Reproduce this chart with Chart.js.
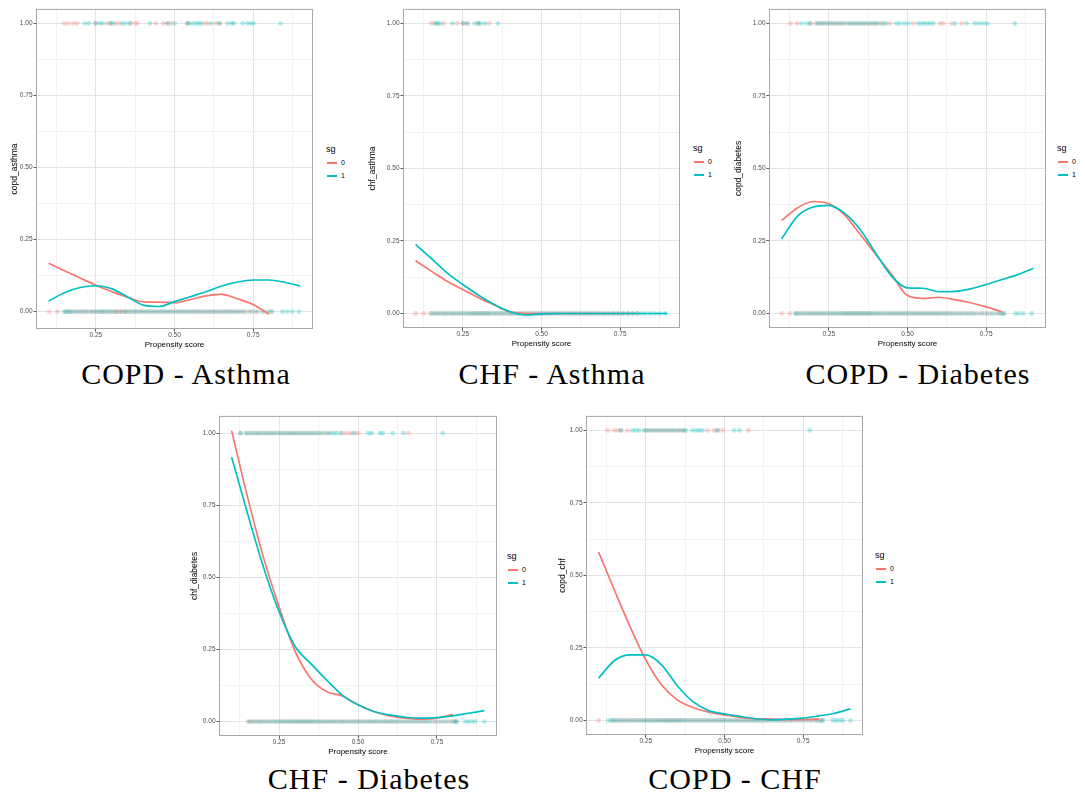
<!DOCTYPE html>
<html>
<head>
<meta charset="utf-8">
<script src="https://cdn.jsdelivr.net/npm/chart.js@4.4.0/dist/chart.umd.min.js"></script>
<style>
  body { margin: 0; background: #fff; width: 1085px; height: 798px; position: relative; overflow: hidden; font-family: "Liberation Sans", Arial, sans-serif; }
  .panel { position: absolute; }
  .leg { position: absolute; width: 40px; height: 40px; color: #000; }
  .leg .t { position: absolute; left: 0; top: 0; font-size: 9px; line-height: 13px; }
  .leg .row { position: absolute; left: 1px; font-size: 7px; line-height: 13px; white-space: nowrap; }
  .leg .key { display: inline-block; width: 10px; height: 2px; vertical-align: middle; margin-right: 4px; }
  .cap { position: absolute; font-family: "Liberation Serif", serif; font-size: 30px; letter-spacing: 1px; line-height: 1; white-space: nowrap; transform: translate(-50%, -50%); }
</style>
</head>
<body>
<script>
// ---- data ------------------------------------------------------------
// loess fits are sampled on fitX; sg = 0 stops at 0.80, sg = 1 runs to 0.90
var fitX = [0.10, 0.15, 0.20, 0.25, 0.30, 0.35, 0.40, 0.45, 0.50, 0.55, 0.60, 0.65, 0.70, 0.75, 0.80, 0.85, 0.90];
var xTicks = [0.125, 0.25, 0.375, 0.5, 0.625, 0.75, 0.875];
var yTicks = [0, 0.125, 0.25, 0.375, 0.5, 0.625, 0.75, 0.875, 1];
var majorTicks = [0, 0.25, 0.5, 0.75, 1];
var groups = ['0', '1'];

// COPD - Asthma
var copdAsthmaFit0 = [0.168, 0.142, 0.117, 0.092, 0.070, 0.050, 0.034, 0.033, 0.031, 0.042, 0.055, 0.060, 0.045, 0.025, -0.008];
var copdAsthmaFit1 = [0.037, 0.066, 0.084, 0.090, 0.080, 0.052, 0.023, 0.018, 0.035, 0.052, 0.069, 0.089, 0.103, 0.110, 0.110, 0.102, 0.089];
var copdAsthmaOne0 = [0.149, 0.162, 0.178, 0.19, 0.249, 0.283, 0.296, 0.312, 0.323, 0.359, 0.375, 0.382, 0.44, 0.464, 0.478, 0.49, 0.541, 0.596, 0.606, 0.632, 0.643];
var copdAsthmaOne1 = [0.215, 0.228, 0.249, 0.262, 0.27, 0.296, 0.304, 0.333, 0.344, 0.359, 0.422, 0.478, 0.501, 0.541, 0.548, 0.559, 0.569, 0.577, 0.585, 0.617, 0.643, 0.669, 0.682, 0.688, 0.717, 0.732, 0.743, 0.751, 0.837];
var copdAsthmaZero0 = [0.102, 0.128, 0.155, 0.168, 0.18, 0.193, 0.205, 0.218, 0.23, 0.242, 0.255, 0.265, 0.275, 0.287, 0.298, 0.31, 0.318, 0.326, 0.334, 0.342, 0.35, 0.362, 0.375, 0.388, 0.4, 0.412, 0.425, 0.437, 0.45, 0.462, 0.475, 0.487, 0.5, 0.512, 0.525, 0.537, 0.55, 0.562, 0.575, 0.587, 0.6, 0.612, 0.625, 0.637, 0.65, 0.662, 0.675, 0.687, 0.7, 0.715, 0.73, 0.748, 0.765, 0.785, 0.805];
var copdAsthmaZero1 = [0.15, 0.158, 0.165, 0.172, 0.185, 0.198, 0.21, 0.222, 0.236, 0.248, 0.26, 0.27, 0.28, 0.292, 0.304, 0.315, 0.33, 0.345, 0.358, 0.37, 0.38, 0.393, 0.406, 0.418, 0.43, 0.443, 0.456, 0.468, 0.48, 0.493, 0.506, 0.518, 0.53, 0.543, 0.556, 0.568, 0.58, 0.593, 0.606, 0.618, 0.63, 0.643, 0.656, 0.668, 0.68, 0.693, 0.706, 0.72, 0.74, 0.758, 0.778, 0.798, 0.81, 0.843, 0.858, 0.874, 0.895];

// CHF - Asthma
var chfAsthmaFit0 = [0.182, 0.146, 0.111, 0.083, 0.054, 0.029, 0.006, 0, 0, 0, 0, 0, 0, 0, 0];
var chfAsthmaFit1 = [0.238, 0.190, 0.140, 0.100, 0.063, 0.031, 0.006, -0.005, -0.001, 0, 0, 0, 0, 0, 0, 0, 0];
var chfAsthmaOne0 = [0.15, 0.163, 0.189, 0.232, 0.251, 0.264, 0.299, 0.334];
var chfAsthmaOne1 = [0.163, 0.171, 0.177, 0.217, 0.251, 0.264, 0.288, 0.299, 0.306, 0.32, 0.362];
var chfAsthmaZero0 = [0.1, 0.126, 0.146, 0.158, 0.17, 0.183, 0.195, 0.208, 0.22, 0.233, 0.245, 0.258, 0.27, 0.28, 0.29, 0.3, 0.31, 0.32, 0.33, 0.342, 0.355, 0.368, 0.38, 0.393, 0.405, 0.418, 0.43, 0.443, 0.455, 0.468, 0.48, 0.493, 0.505, 0.518, 0.53, 0.543, 0.555, 0.568, 0.58, 0.593, 0.605, 0.618, 0.63, 0.643, 0.655, 0.668, 0.68, 0.695, 0.71, 0.725, 0.74, 0.758, 0.775, 0.79, 0.805];
var chfAsthmaZero1 = [0.152, 0.164, 0.176, 0.189, 0.2, 0.214, 0.226, 0.238, 0.25, 0.263, 0.275, 0.286, 0.296, 0.306, 0.316, 0.326, 0.336, 0.348, 0.36, 0.373, 0.386, 0.398, 0.41, 0.423, 0.436, 0.448, 0.46, 0.473, 0.486, 0.498, 0.51, 0.523, 0.536, 0.548, 0.56, 0.573, 0.586, 0.598, 0.61, 0.623, 0.636, 0.648, 0.66, 0.673, 0.686, 0.7, 0.715, 0.73, 0.745, 0.76, 0.775, 0.79, 0.805, 0.818, 0.83, 0.845, 0.86, 0.875, 0.893];

// COPD - Diabetes
var copdDiabFit0 = [0.320, 0.364, 0.386, 0.378, 0.340, 0.272, 0.203, 0.134, 0.062, 0.052, 0.056, 0.048, 0.037, 0.023, 0.006];
var copdDiabFit1 = [0.257, 0.335, 0.367, 0.373, 0.346, 0.289, 0.206, 0.128, 0.088, 0.087, 0.075, 0.076, 0.085, 0.100, 0.117, 0.134, 0.156];
var copdDiabOne0 = [0.128, 0.149, 0.191, 0.208, 0.22, 0.232, 0.245, 0.258, 0.27, 0.282, 0.295, 0.31, 0.322, 0.335, 0.348, 0.36, 0.372, 0.385, 0.398, 0.41, 0.425, 0.444, 0.518, 0.603, 0.613, 0.64, 0.672];
var copdDiabOne1 = [0.163, 0.179, 0.191, 0.215, 0.226, 0.238, 0.25, 0.262, 0.275, 0.288, 0.3, 0.315, 0.328, 0.34, 0.352, 0.365, 0.378, 0.39, 0.402, 0.418, 0.432, 0.465, 0.475, 0.49, 0.502, 0.534, 0.544, 0.553, 0.562, 0.572, 0.582, 0.651, 0.688, 0.714, 0.728, 0.741, 0.753, 0.841];
var copdDiabZero0 = [0.1, 0.126, 0.146, 0.158, 0.172, 0.185, 0.198, 0.21, 0.222, 0.235, 0.248, 0.26, 0.272, 0.284, 0.296, 0.306, 0.316, 0.326, 0.336, 0.346, 0.356, 0.366, 0.376, 0.386, 0.398, 0.41, 0.423, 0.436, 0.448, 0.46, 0.473, 0.486, 0.498, 0.51, 0.523, 0.536, 0.548, 0.56, 0.573, 0.586, 0.598, 0.61, 0.623, 0.636, 0.65, 0.665, 0.68, 0.695, 0.71, 0.728, 0.745, 0.762, 0.78, 0.795, 0.806];
var copdDiabZero1 = [0.143, 0.152, 0.165, 0.178, 0.191, 0.204, 0.216, 0.228, 0.241, 0.254, 0.266, 0.278, 0.29, 0.301, 0.311, 0.321, 0.331, 0.341, 0.351, 0.361, 0.371, 0.381, 0.392, 0.404, 0.416, 0.429, 0.442, 0.454, 0.467, 0.48, 0.492, 0.504, 0.517, 0.53, 0.542, 0.554, 0.567, 0.58, 0.592, 0.604, 0.617, 0.63, 0.643, 0.658, 0.672, 0.688, 0.703, 0.718, 0.736, 0.753, 0.77, 0.788, 0.8, 0.807, 0.843, 0.853, 0.867, 0.895];

// CHF - Diabetes
var chfDiabFit0 = [1.009, 0.780, 0.572, 0.399, 0.246, 0.150, 0.104, 0.089, 0.058, 0.035, 0.020, 0.012, 0.008, 0.012, 0.025];
var chfDiabFit1 = [0.917, 0.723, 0.538, 0.382, 0.262, 0.202, 0.145, 0.092, 0.058, 0.035, 0.023, 0.015, 0.012, 0.014, 0.020, 0.029, 0.038];
var chfDiabOne0 = [0.128, 0.15, 0.165, 0.178, 0.19, 0.205, 0.218, 0.232, 0.245, 0.258, 0.27, 0.282, 0.295, 0.308, 0.322, 0.335, 0.348, 0.36, 0.375, 0.39, 0.405, 0.45, 0.462, 0.475, 0.49, 0.501, 0.66];
var chfDiabOne1 = [0.128, 0.145, 0.158, 0.172, 0.185, 0.198, 0.212, 0.225, 0.238, 0.252, 0.265, 0.278, 0.29, 0.302, 0.315, 0.328, 0.342, 0.355, 0.368, 0.382, 0.398, 0.412, 0.422, 0.432, 0.445, 0.485, 0.533, 0.543, 0.57, 0.578, 0.61, 0.644, 0.768];
var chfDiabZero0 = [0.152, 0.162, 0.175, 0.188, 0.2, 0.213, 0.226, 0.238, 0.25, 0.262, 0.273, 0.284, 0.295, 0.306, 0.316, 0.326, 0.336, 0.346, 0.356, 0.368, 0.38, 0.392, 0.404, 0.416, 0.429, 0.442, 0.454, 0.467, 0.48, 0.492, 0.504, 0.517, 0.53, 0.542, 0.554, 0.567, 0.58, 0.592, 0.604, 0.617, 0.63, 0.645, 0.66, 0.675, 0.69, 0.705, 0.72, 0.738, 0.755, 0.772, 0.79, 0.805, 0.81];
var chfDiabZero1 = [0.156, 0.168, 0.182, 0.194, 0.207, 0.22, 0.232, 0.244, 0.256, 0.268, 0.279, 0.29, 0.3, 0.311, 0.321, 0.331, 0.341, 0.351, 0.362, 0.374, 0.386, 0.398, 0.41, 0.422, 0.435, 0.448, 0.46, 0.473, 0.486, 0.498, 0.51, 0.523, 0.536, 0.548, 0.56, 0.573, 0.586, 0.598, 0.61, 0.623, 0.637, 0.652, 0.667, 0.682, 0.697, 0.712, 0.728, 0.746, 0.763, 0.78, 0.797, 0.808, 0.813, 0.84, 0.85, 0.86, 0.87, 0.9];

// COPD - CHF
var copdChfFit0 = [0.581, 0.450, 0.323, 0.209, 0.123, 0.071, 0.045, 0.029, 0.019, 0.011, 0.006, 0.005, 0.003, 0.003, 0.005];
var copdChfFit1 = [0.146, 0.206, 0.226, 0.226, 0.192, 0.120, 0.065, 0.034, 0.023, 0.014, 0.006, 0.002, 0.005, 0.008, 0.016, 0.025, 0.040];
var copdChfOne0 = [0.129, 0.15, 0.16, 0.171, 0.192, 0.248, 0.26, 0.272, 0.285, 0.298, 0.31, 0.322, 0.335, 0.348, 0.36, 0.372, 0.446, 0.467, 0.478, 0.494, 0.576];
var copdChfOne1 = [0.171, 0.208, 0.218, 0.229, 0.245, 0.256, 0.268, 0.28, 0.292, 0.305, 0.318, 0.33, 0.342, 0.355, 0.368, 0.377, 0.398, 0.41, 0.42, 0.43, 0.478, 0.531, 0.547, 0.771];
var copdChfZero0 = [0.1, 0.145, 0.156, 0.168, 0.18, 0.192, 0.204, 0.216, 0.228, 0.24, 0.252, 0.263, 0.274, 0.285, 0.296, 0.306, 0.316, 0.326, 0.336, 0.346, 0.356, 0.366, 0.378, 0.39, 0.402, 0.414, 0.426, 0.438, 0.45, 0.463, 0.476, 0.488, 0.5, 0.513, 0.526, 0.538, 0.55, 0.563, 0.576, 0.588, 0.6, 0.613, 0.626, 0.64, 0.655, 0.67, 0.685, 0.7, 0.716, 0.733, 0.75, 0.768, 0.785, 0.8, 0.81];
var copdChfZero1 = [0.131, 0.141, 0.15, 0.162, 0.174, 0.186, 0.198, 0.21, 0.222, 0.234, 0.246, 0.257, 0.268, 0.279, 0.29, 0.301, 0.311, 0.321, 0.331, 0.341, 0.351, 0.361, 0.372, 0.384, 0.396, 0.408, 0.42, 0.432, 0.444, 0.456, 0.469, 0.482, 0.494, 0.506, 0.519, 0.532, 0.544, 0.556, 0.569, 0.582, 0.594, 0.606, 0.619, 0.633, 0.647, 0.662, 0.677, 0.692, 0.708, 0.724, 0.741, 0.758, 0.776, 0.792, 0.805, 0.813, 0.845, 0.855, 0.865, 0.876, 0.9];

// ---- look & layout ---------------------------------------------------
var RED = '#F8766D', TEAL = '#00BFC4';
var RED_PT = 'rgba(248,118,109,0.3)', TEAL_PT = 'rgba(0,191,196,0.3)';
var AXIS_W = 36, AXIS_H = 22, PAD_TOP = 4, PAD_RIGHT = 4;

function atLevel(xs, level) {
    return xs.map(function (x) { return {x: x, y: level}; });
}
function fitLine(ys) {
    return ys.map(function (y, i) { return {x: fitX[i], y: y}; });
}
function isMajor(v) {
    return majorTicks.indexOf(Math.round(v * 1000) / 1000) >= 0;
}

// draws the grey box round the panel, like theme_bw
var panelBorder = {
    id: 'panelBorder',
    afterDatasetsDraw: function (chart) {
        var a = chart.chartArea, ctx = chart.ctx;
        ctx.save();
        ctx.strokeStyle = '#a8a8a8';
        ctx.lineWidth = 1;
        ctx.strokeRect(a.left + 0.5, a.top + 0.5, a.right - a.left - 1, a.bottom - a.top - 1);
        ctx.restore();
    }
};

function makePanel(p) {
    var left = p.box[0] - AXIS_W, top = p.box[1] - PAD_TOP;
    var w = p.box[2] + PAD_RIGHT - left, h = p.box[3] + AXIS_H - top;

    var wrap = document.createElement('div');
    wrap.className = 'panel';
    wrap.style.left = left + 'px';
    wrap.style.top = top + 'px';
    var cv = document.createElement('canvas');
    cv.width = w; cv.height = h;
    cv.style.width = w + 'px'; cv.style.height = h + 'px';
    wrap.appendChild(cv);
    document.body.appendChild(wrap);

    var gridColor = function (ctx) { return isMajor(ctx.tick.value) ? '#e4e4e4' : '#f2f2f2'; };
    var tickColor = function (ctx) { return isMajor(ctx.tick.value) ? '#555' : 'rgba(0,0,0,0)'; };
    var tickFont = {family: 'Liberation Sans', size: 6.5};

    new Chart(cv.getContext('2d'), {
        type: 'scatter',
        data: {
            datasets: [
                {label: groups[1], data: fitLine(p.fit1), showLine: true, borderColor: TEAL, borderWidth: 1.7, pointRadius: 0, cubicInterpolationMode: 'monotone'},
                {label: groups[0], data: fitLine(p.fit0), showLine: true, borderColor: RED, borderWidth: 1.7, pointRadius: 0, cubicInterpolationMode: 'monotone'},
                {data: atLevel(p.one1, 1).concat(atLevel(p.zero1, 0)), backgroundColor: TEAL_PT, borderWidth: 0, pointRadius: 2.4},
                {data: atLevel(p.one0, 1).concat(atLevel(p.zero0, 0)), backgroundColor: RED_PT, borderWidth: 0, pointRadius: 2.4}
            ]
        },
        options: {
            responsive: false,
            animation: false,
            events: [],
            layout: {padding: {left: 0, top: PAD_TOP, right: PAD_RIGHT, bottom: 0}},
            plugins: {legend: {display: false}, tooltip: {enabled: false}},
            scales: {
                x: {
                    type: 'linear', min: 0.06, max: 0.94,
                    afterBuildTicks: function (s) { s.ticks = xTicks.map(function (v) { return {value: v}; }); },
                    afterFit: function (s) { s.height = AXIS_H; },
                    border: {display: false},
                    grid: {color: gridColor, tickColor: tickColor, tickLength: 2.5, lineWidth: 1},
                    ticks: {
                        autoSkip: false, maxRotation: 0, padding: 0, color: '#4d4d4d', font: tickFont,
                        callback: function (v) { return isMajor(v) ? v.toFixed(2) : ''; }
                    },
                    title: {display: true, text: 'Propensity score', color: '#000', font: {family: 'Liberation Sans', size: 8}, padding: {top: 0, bottom: 1.7}}
                },
                y: {
                    type: 'linear', min: p.yMin, max: p.yMax,
                    afterBuildTicks: function (s) { s.ticks = yTicks.map(function (v) { return {value: v}; }); },
                    afterFit: function (s) { s.width = AXIS_W; },
                    border: {display: false},
                    grid: {color: gridColor, tickColor: tickColor, tickLength: 2.5, lineWidth: 1},
                    ticks: {
                        autoSkip: false, padding: 1, color: '#4d4d4d', font: tickFont,
                        callback: function (v) { return isMajor(v) ? v.toFixed(2) : ''; }
                    },
                    title: {display: true, text: p.yTitle, color: '#000', font: {family: 'Liberation Sans', size: 8.5}, padding: {top: AXIS_W - p.titleGap - 5.1, bottom: 0}}
                }
            }
        },
        plugins: [panelBorder]
    });

    // legend, to the right of the panel
    var mid = (p.box[1] + p.box[3]) / 2;
    var leg = document.createElement('div');
    leg.className = 'leg';
    leg.style.left = (p.box[2] + p.legGap) + 'px';
    leg.style.top = (mid - 26) + 'px';
    leg.innerHTML = '<div class="t">sg</div>' +
        '<div class="row" style="top:13px"><span class="key" style="background:' + RED + '"></span>' + groups[0] + '</div>' +
        '<div class="row" style="top:26px"><span class="key" style="background:' + TEAL + '"></span>' + groups[1] + '</div>';
    document.body.appendChild(leg);

    var cap = document.createElement('div');
    cap.className = 'cap';
    cap.style.left = p.cap[0] + 'px';
    cap.style.top = p.cap[1] + 'px';
    cap.textContent = p.caption;
    document.body.appendChild(cap);
}

makePanel({box: [36, 8, 313, 329], yMin: -0.06, yMax: 1.05, yTitle: 'copd_asthma', titleGap: 21, legGap: 13,
    fit0: copdAsthmaFit0, fit1: copdAsthmaFit1, one0: copdAsthmaOne0, one1: copdAsthmaOne1, zero0: copdAsthmaZero0, zero1: copdAsthmaZero1,
    caption: 'COPD - Asthma', cap: [186, 374]});
makePanel({box: [403, 8, 680, 328], yMin: -0.05, yMax: 1.05, yTitle: 'chf_asthma', titleGap: 30, legGap: 13,
    fit0: chfAsthmaFit0, fit1: chfAsthmaFit1, one0: chfAsthmaOne0, one1: chfAsthmaOne1, zero0: chfAsthmaZero0, zero1: chfAsthmaZero1,
    caption: 'CHF - Asthma', cap: [552, 374]});
makePanel({box: [769, 8, 1046, 328], yMin: -0.05, yMax: 1.05, yTitle: 'copd_diabetes', titleGap: 30, legGap: 11,
    fit0: copdDiabFit0, fit1: copdDiabFit1, one0: copdDiabOne0, one1: copdDiabOne1, zero0: copdDiabZero0, zero1: copdDiabZero1,
    caption: 'COPD - Diabetes', cap: [918, 374]});
makePanel({box: [219, 415, 497, 736], yMin: -0.05, yMax: 1.06, yTitle: 'chf_diabetes', titleGap: 24, legGap: 10,
    fit0: chfDiabFit0, fit1: chfDiabFit1, one0: chfDiabOne0, one1: chfDiabOne1, zero0: chfDiabZero0, zero1: chfDiabZero1,
    caption: 'CHF - Diabetes', cap: [369, 779]});
makePanel({box: [586, 415, 863, 735], yMin: -0.05, yMax: 1.05, yTitle: 'copd_chf', titleGap: 23, legGap: 12,
    fit0: copdChfFit0, fit1: copdChfFit1, one0: copdChfOne0, one1: copdChfOne1, zero0: copdChfZero0, zero1: copdChfZero1,
    caption: 'COPD - CHF', cap: [735, 779]});
</script>
</body>
</html>
